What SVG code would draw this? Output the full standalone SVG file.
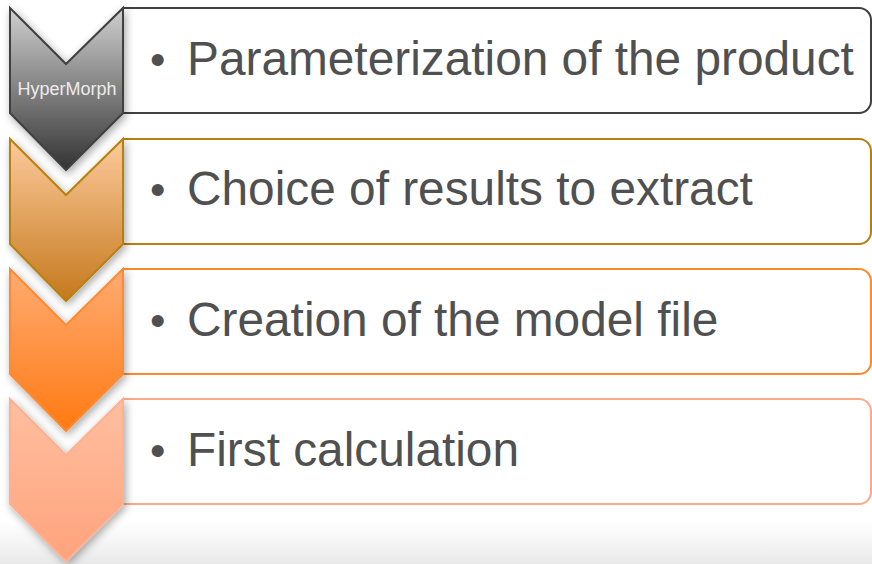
<svg xmlns="http://www.w3.org/2000/svg" width="872" height="564" viewBox="0 0 872 564">
<defs>
<linearGradient id="bg" x1="0" y1="0" x2="0" y2="1">
<stop offset="0" stop-color="#ffffff"/><stop offset="1" stop-color="#e9e9e9"/>
</linearGradient>
<linearGradient id="g1" x1="0" y1="0" x2="0" y2="1">
<stop offset="0" stop-color="#d0d0d0"/><stop offset="1" stop-color="#333333"/>
</linearGradient>
<linearGradient id="g2" x1="0" y1="0" x2="0" y2="1">
<stop offset="0" stop-color="#fdca9c"/><stop offset="1" stop-color="#c5791c"/>
</linearGradient>
<linearGradient id="g3" x1="0" y1="0" x2="0" y2="1">
<stop offset="0" stop-color="#ffab73"/><stop offset="1" stop-color="#ff7a12"/>
</linearGradient>
<linearGradient id="g4" x1="0" y1="0" x2="0" y2="1">
<stop offset="0" stop-color="#ffbfa0"/><stop offset="1" stop-color="#ffa37c"/>
</linearGradient>
<filter id="sh" x="-30%" y="-30%" width="160%" height="160%">
<feDropShadow dx="2" dy="3" stdDeviation="4" flood-color="#000" flood-opacity="0.35"/>
</filter>
<path id="chev" d="M0 0 L56 56 L113 0 V105 L56 162 L0 105 Z"/>
<path id="box" d="M113 0 H849 A12 12 0 0 1 861 12 V93 A12 12 0 0 1 849 105 H113 Z"/>
</defs>
<style>
.t{font-family:"Liberation Sans",Arial,sans-serif;font-size:47.8px;fill:#505050}
.b{font-family:"Liberation Sans",Arial,sans-serif;font-size:44px;fill:#505050}
.lbl{font-family:"Liberation Sans",Arial,sans-serif;font-size:18px;fill:#ececec;text-anchor:middle}
.bx{fill:#ffffff;stroke-width:2}
.cv{stroke-width:2;filter:url(#sh)}
</style>
<rect x="0" y="0" width="872" height="564" fill="#ffffff"/>
<rect x="0" y="522" width="872" height="42" fill="url(#bg)"/>

<g id="step4" transform="translate(10,399)">
<use href="#box" class="bx" stroke="#ffa98a"/>
<use href="#chev" class="cv" fill="url(#g4)" stroke="#ffb090"/>
<text class="b" x="140" y="67">•</text>
<text class="t" x="177" y="67">First calculation</text>
</g>
<g id="step3" transform="translate(10,269)">
<use href="#box" class="bx" stroke="#ff8a2c"/>
<use href="#chev" class="cv" fill="url(#g3)" stroke="#ff8a30"/>
<text class="b" x="140" y="67">•</text>
<text class="t" x="177" y="67">Creation of the model file</text>
</g>
<g id="step2" transform="translate(10,139)">
<use href="#box" class="bx" stroke="#b88010"/>
<use href="#chev" class="cv" fill="url(#g2)" stroke="#b8800f"/>
<text class="b" x="140" y="66">•</text>
<text class="t" x="177" y="66">Choice of results to extract</text>
</g>
<g id="step1" transform="translate(10,8)">
<use href="#box" class="bx" stroke="#404040"/>
<use href="#chev" class="cv" fill="url(#g1)" stroke="#404040"/>
<text class="lbl" x="57" y="87">HyperMorph</text>
<text class="b" x="140" y="67">•</text>
<text class="t" x="177" y="67">Parameterization of the product</text>
</g>
<g id="connectors"/>
</svg>
